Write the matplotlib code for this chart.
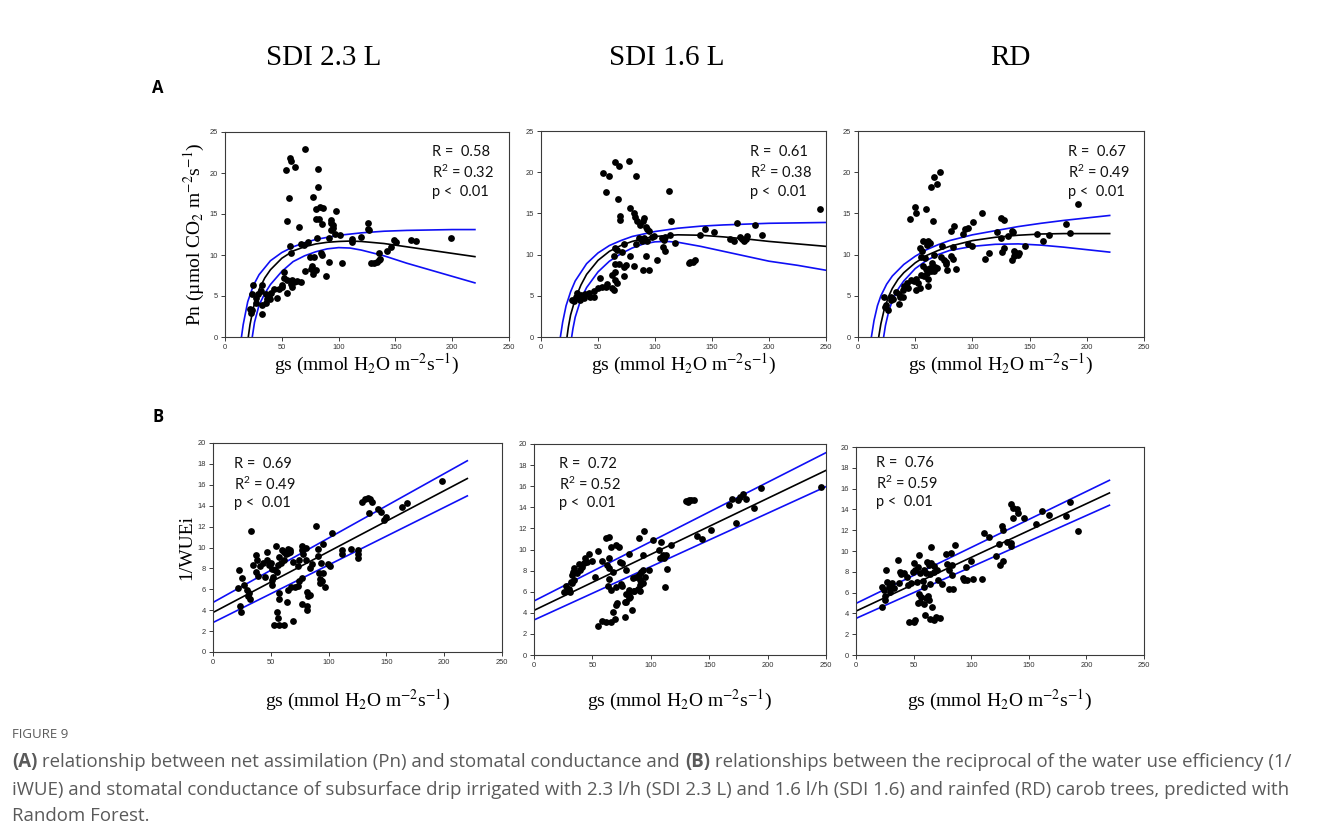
import matplotlib
matplotlib.use("Agg")
import matplotlib.pyplot as plt

plt.rcParams["mathtext.fontset"] = "custom"
plt.rcParams["mathtext.rm"] = "Lato"
plt.rcParams["mathtext.it"] = "Lato:italic"

# ---------------- data ----------------
treatments = ["SDI 2.3 L", "SDI 1.6 L", "RD"]

# Pn vs gs, (gs, Pn) pairs
pn_sdi23 = [(70.1, 22.9), (53.4, 20.4), (57.5, 21.8), (57.8, 21.5), (61.6, 20.7), (81.5, 20.5), (81.5, 18.3),
            (56.1, 17.0), (77.1, 17.1), (54.9, 14.1), (65.1, 13.4), (79.7, 15.6), (83.8, 15.8), (85.9, 15.7),
            (80.3, 14.4), (82.6, 14.4), (85.0, 13.8), (97.5, 15.4), (93.2, 14.3), (93.5, 13.9), (95.0, 13.3),
            (93.2, 13.1), (95.5, 13.6), (125.9, 13.9), (125.6, 13.2), (126.5, 13.0), (96.7, 12.6), (101.6, 12.4),
            (91.4, 12.1), (119.7, 12.2), (111.9, 11.95), (112.1, 11.6), (148.4, 11.8), (150.4, 11.6),
            (163.3, 11.8), (168.0, 11.75), (198.6, 12.1), (67.2, 11.4), (69.5, 11.2), (73.0, 11.6), (57.5, 11.1),
            (80.6, 12.1), (84.1, 10.3), (85.6, 10.0), (74.5, 9.8), (78.0, 9.7), (91.4, 9.1), (103.1, 9.0),
            (76.8, 8.6), (75.3, 8.3), (77.3, 7.7), (79.9, 8.2), (89.1, 7.4), (70.5, 8.0), (58.0, 10.2),
            (128.8, 9.0), (131.4, 9.0), (133.8, 9.1), (135.5, 9.4), (136.7, 9.5), (135.2, 10.2), (142.5, 10.5),
            (146.0, 11.0), (51.7, 7.9), (52.0, 7.2), (54.9, 7.0), (59.3, 7.0), (60.7, 6.7), (63.7, 6.8),
            (66.6, 6.7), (57.8, 6.5), (59.3, 6.1), (54.9, 5.4), (50.0, 6.3), (47.9, 5.85), (50.5, 6.05),
            (46.1, 4.8), (43.2, 5.9), (40.3, 5.4), (38.8, 4.9), (39.4, 4.6), (35.9, 5.2), (36.2, 4.2),
            (33.0, 3.9), (33.0, 2.8), (33.0, 6.3), (31.5, 5.6), (29.2, 5.3), (27.2, 4.8), (24.8, 6.3),
            (23.4, 5.3), (21.9, 3.4), (22.8, 2.9), (24.2, 3.3), (27.2, 4.2), (37.4, 4.6)]

pn_sdi16 = [(65.2, 21.2), (76.9, 21.4), (68.7, 20.7), (54.1, 19.9), (59.9, 19.5), (83.3, 19.5), (56.7, 17.6),
            (112.6, 17.7), (67.5, 16.7), (245.0, 15.5), (78.4, 15.7), (81.3, 15.0), (82.2, 14.6), (90.4, 14.5),
            (89.5, 14.1), (69.0, 14.2), (69.3, 14.7), (84.2, 14.1), (114.0, 14.1), (87.1, 13.6), (91.8, 13.4),
            (93.0, 13.1), (95.0, 12.9), (143.9, 13.1), (151.5, 12.8), (172.0, 13.8), (187.4, 13.6),
            (193.9, 12.4), (139.2, 12.4), (113.5, 12.4), (97.4, 12.1), (99.4, 12.2), (85.7, 12.05), (88.6, 11.7),
            (90.0, 12.0), (93.0, 11.7), (106.0, 12.0), (109.0, 12.1), (107.6, 11.8), (117.8, 11.4),
            (166.1, 11.9), (169.0, 11.65), (174.3, 12.1), (176.0, 11.9), (179.5, 11.9), (180.7, 12.2),
            (177.8, 11.7), (83.0, 11.3), (72.5, 11.25), (65.2, 10.8), (66.7, 10.6), (107.0, 10.9), (109.0, 10.4),
            (71.0, 10.3), (78.4, 9.8), (92.4, 9.8), (101.8, 9.4), (63.6, 9.8), (64.9, 8.9), (68.1, 8.8),
            (74.3, 8.7), (73.1, 8.5), (81.3, 8.6), (89.5, 8.1), (94.4, 8.1), (129.5, 9.0), (131.0, 9.1),
            (133.0, 9.1), (135.4, 9.3), (65.2, 7.9), (62.3, 7.5), (65.2, 6.9), (66.7, 6.6), (73.1, 7.4),
            (62.6, 5.9), (64.3, 5.7), (57.9, 6.4), (57.3, 6.1), (52.0, 7.1), (53.5, 6.1), (50.0, 5.9),
            (46.8, 5.6), (41.8, 5.3), (38.9, 5.2), (46.2, 4.9), (43.3, 4.9), (35.4, 5.1), (31.6, 5.3),
            (27.2, 4.45), (29.2, 4.4), (32.2, 5.0), (34.5, 4.45), (30.4, 4.9), (33.3, 4.7), (37.4, 4.7)]

pn_rd = [(71.4, 20.0), (66.4, 19.4), (68.8, 18.6), (63.8, 18.2), (49.8, 15.8), (50.7, 15.1), (59.4, 15.5),
         (45.2, 14.3), (65.3, 14.1), (192.3, 16.2), (108.7, 15.0), (100.8, 13.9), (124.7, 14.5), (127.6, 14.2),
         (182.0, 13.7), (83.9, 13.5), (81.0, 12.9), (93.5, 13.1), (95.9, 13.2), (92.1, 12.5), (121.8, 12.8),
         (134.3, 12.9), (135.2, 12.7), (131.1, 12.3), (156.2, 12.5), (166.7, 12.4), (185.6, 12.6),
         (124.7, 12.0), (161.4, 11.7), (56.5, 11.65), (60.9, 11.7), (62.7, 11.45), (60.3, 11.2), (73.4, 11.0),
         (83.3, 10.9), (53.9, 10.85), (95.9, 11.3), (99.3, 11.05), (127.3, 10.8), (126.2, 10.3), (114.5, 10.2),
         (111.3, 9.5), (136.1, 10.4), (138.4, 10.2), (140.7, 10.25), (139.6, 9.9), (136.7, 9.8), (134.3, 9.35),
         (146.0, 11.1), (55.6, 10.4), (54.8, 9.75), (58.3, 9.55), (66.1, 9.95), (72.3, 9.75), (75.2, 9.4),
         (77.2, 9.15), (76.6, 8.9), (81.0, 9.85), (83.0, 9.45), (78.1, 8.1), (85.7, 8.2), (65.0, 8.95),
         (67.3, 8.55), (69.0, 8.35), (62.6, 8.35), (63.5, 7.95), (66.4, 7.95), (56.8, 8.65), (59.1, 8.2),
         (55.0, 7.55), (57.4, 7.35), (60.3, 7.75), (60.9, 7.05), (61.5, 6.25), (51.0, 7.0), (52.4, 6.5),
         (53.9, 5.9), (50.4, 5.65), (48.7, 6.75), (46.6, 6.95), (43.1, 6.55), (43.7, 5.9), (39.3, 5.7),
         (40.2, 6.2), (35.8, 5.2), (33.5, 5.5), (37.0, 4.9), (39.3, 4.85), (29.1, 4.9), (30.6, 4.65),
         (22.7, 4.9), (23.3, 3.7), (24.8, 3.9), (26.2, 3.3), (35.5, 4.0), (28.6, 4.5)]

# fitted Pn curves: (gs, value) read along the fitted line and its two bands
fit_sdi23_mid = [(20.5, 0.0), (22, 1.5), (25, 3.6), (30, 5.8), (35, 7.2), (40, 8.2), (50, 9.6), (60, 10.5),
                 (70, 11.0), (80, 11.35), (90, 11.55), (100, 11.65), (110, 11.7), (120, 11.65), (140, 11.4),
                 (160, 11.0), (180, 10.6), (200, 10.2), (220, 9.8)]
fit_sdi23_up = [(14.5, 0.0), (16, 1.5), (20, 4.3), (25, 6.3), (30, 7.6), (40, 9.3), (50, 10.3), (60, 11.0),
                (70, 11.5), (80, 11.9), (100, 12.4), (120, 12.7), (140, 12.9), (160, 13.0), (180, 13.05),
                (200, 13.1), (220, 13.1)]
fit_sdi23_lo = [(24, 0.0), (26, 1.8), (30, 3.9), (35, 5.3), (40, 6.4), (50, 8.0), (60, 9.2), (70, 9.9),
                (80, 10.4), (90, 10.75), (100, 10.9), (110, 10.85), (120, 10.6), (140, 9.9), (160, 9.0),
                (180, 8.2), (200, 7.4), (220, 6.6)]

fit_sdi16_mid = [(22.8, 0.0), (24, 1.2), (26, 2.7), (30, 4.6), (35, 6.3), (40, 7.6), (50, 9.3), (60, 10.4),
                 (70, 11.1), (80, 11.6), (90, 11.95), (100, 12.2), (120, 12.4), (140, 12.35), (160, 12.15),
                 (180, 11.9), (200, 11.6), (225, 11.3), (250, 11.0)]
fit_sdi16_up = [(17, 0.0), (19, 1.8), (22, 3.8), (26, 5.5), (30, 6.8), (40, 8.9), (50, 10.2), (60, 11.1),
                (70, 11.7), (80, 12.2), (100, 12.8), (120, 13.2), (140, 13.45), (160, 13.6), (180, 13.7),
                (200, 13.8), (225, 13.85), (250, 13.9)]
fit_sdi16_lo = [(26.9, 0.0), (28, 1.0), (30, 2.4), (35, 4.6), (40, 6.0), (50, 7.9), (60, 9.2), (70, 10.1),
                (80, 10.8), (90, 11.3), (100, 11.55), (110, 11.6), (120, 11.5), (140, 11.0), (160, 10.4),
                (180, 9.8), (200, 9.2), (225, 8.7), (250, 8.1)]

fit_rd_mid = [(18.1, 0.0), (20, 1.6), (23, 3.4), (27, 5.0), (30, 5.9), (35, 7.0), (40, 7.8), (50, 9.0),
              (60, 9.9), (70, 10.5), (80, 11.0), (100, 11.7), (120, 12.1), (140, 12.35), (160, 12.5),
              (180, 12.55), (200, 12.55), (220, 12.55)]
fit_rd_up = [(11.7, 0.0), (14, 2.0), (17, 3.8), (20, 5.0), (25, 6.4), (30, 7.4), (40, 8.8), (50, 9.8),
             (60, 10.6), (70, 11.2), (80, 11.7), (100, 12.4), (120, 12.9), (140, 13.4), (160, 13.8),
             (180, 14.15), (200, 14.45), (220, 14.75)]
fit_rd_lo = [(22.4, 0.0), (24, 1.4), (27, 3.2), (30, 4.4), (35, 5.8), (40, 6.8), (50, 8.3), (60, 9.3),
             (70, 10.0), (80, 10.5), (100, 11.0), (120, 11.25), (140, 11.3), (160, 11.15), (180, 10.9),
             (200, 10.6), (220, 10.3)]

# 1/WUEi vs gs, (gs, 1/WUEi) pairs
wue_sdi23 = [(198.2, 16.4), (167.4, 14.3), (163.1, 13.9), (128.9, 14.4), (131.5, 14.6), (133.8, 14.7),
             (135.8, 14.6), (137.2, 14.4), (134.9, 13.3), (142.4, 13.7), (145.3, 13.4), (149.3, 12.9),
             (148.1, 12.6), (125.7, 9.8), (125.7, 9.4), (125.1, 9.0), (119.7, 9.9), (111.3, 9.75), (111.3, 9.4),
             (102.7, 11.4), (88.9, 12.1), (32.8, 11.55), (95.5, 10.3), (90.6, 9.85), (99.8, 8.4), (101.3, 8.2),
             (90.6, 9.2), (93.6, 8.55), (91.3, 7.6), (95.5, 7.6), (92.6, 7.0), (94.3, 6.8), (92.3, 6.6),
             (97.0, 6.25), (85.4, 8.4), (84.0, 8.0), (77.4, 10.1), (80.6, 10.0), (76.8, 9.75), (78.0, 9.4),
             (74.8, 8.8), (73.3, 8.2), (80.6, 8.8), (69.6, 8.65), (66.7, 9.8), (65.3, 9.5), (61.6, 8.8),
             (59.0, 8.5), (54.7, 10.1), (59.6, 9.8), (61.0, 9.6), (57.5, 9.1), (63.0, 9.4), (65.3, 9.9),
             (66.2, 9.6), (46.6, 9.6), (48.6, 8.3), (50.1, 8.5), (50.9, 7.9), (56.1, 8.3), (55.2, 7.7),
             (51.2, 6.4), (57.0, 5.6), (56.7, 5.1), (64.7, 5.9), (67.6, 6.2), (71.3, 6.2), (73.9, 6.3),
             (74.5, 6.8), (76.8, 7.1), (81.1, 5.7), (82.0, 5.4), (84.0, 5.5), (76.8, 4.6), (81.1, 4.4),
             (81.1, 4.0), (63.9, 4.8), (69.6, 3.0), (61.0, 2.6), (53.2, 2.6), (57.5, 2.6), (55.2, 3.8),
             (55.8, 3.25), (38.0, 8.85), (42.9, 8.5), (40.9, 8.2), (36.8, 9.3), (34.5, 8.3), (37.4, 7.7),
             (38.8, 7.3), (44.6, 7.2), (46.6, 8.8), (22.2, 7.8), (25.0, 7.1), (27.0, 6.4), (29.3, 5.9),
             (30.8, 5.6), (32.2, 5.1), (30.2, 5.35), (21.6, 6.15), (23.6, 4.4), (24.5, 3.85), (50.9, 6.9),
             (51.8, 7.2), (53.8, 7.8)]

wue_sdi16 = [(245.7, 15.9), (194.7, 15.8), (179.0, 15.3), (176.7, 15.0), (174.7, 14.7), (181.3, 14.8),
             (169.8, 14.75), (167.0, 14.2), (188.1, 13.9), (172.7, 12.5), (151.2, 11.85), (144.0, 11.0),
             (139.5, 11.3), (130.3, 14.6), (132.6, 14.7), (134.6, 14.7), (136.6, 14.7), (131.7, 14.5),
             (117.7, 10.4), (109.1, 10.7), (107.4, 9.95), (110.3, 9.5), (108.2, 9.15), (111.7, 9.15),
             (113.1, 9.5), (114.0, 8.15), (112.5, 6.4), (101.9, 10.9), (93.9, 11.8), (89.6, 11.1), (93.1, 9.5),
             (98.2, 8.05), (93.1, 8.05), (95.1, 7.4), (91.6, 7.9), (90.2, 7.6), (87.3, 7.35), (84.5, 7.3),
             (90.8, 7.1), (90.8, 6.6), (88.8, 6.25), (86.0, 6.1), (93.1, 6.8), (81.6, 9.6), (78.8, 8.05),
             (75.0, 8.75), (73.9, 8.85), (72.5, 10.2), (70.2, 10.4), (66.2, 10.2), (64.4, 9.15), (62.1, 8.55),
             (64.4, 8.2), (61.6, 11.05), (64.4, 11.2), (67.3, 7.9), (64.4, 7.25), (63.0, 6.5), (65.9, 6.2),
             (70.2, 6.4), (74.5, 6.7), (75.3, 6.55), (81.6, 6.15), (78.8, 5.8), (81.0, 5.4), (81.0, 5.65),
             (78.2, 5.05), (54.4, 9.85), (58.3, 8.95), (52.4, 7.4), (46.7, 9.6), (49.5, 8.95), (45.2, 8.85),
             (42.7, 8.7), (44.0, 9.15), (38.7, 8.6), (41.0, 8.35), (39.5, 8.05), (34.4, 8.2), (36.4, 7.8),
             (33.5, 7.9), (32.4, 7.6), (32.9, 6.8), (31.5, 6.95), (34.4, 7.1), (30.1, 6.3), (30.9, 6.0),
             (27.2, 6.5), (28.1, 6.1), (25.8, 6.0), (55.1, 2.75), (57.9, 3.25), (61.6, 3.1), (65.6, 3.1),
             (69.3, 3.4), (67.9, 4.05), (69.9, 4.75), (70.8, 4.9), (77.9, 3.6), (78.8, 5.0), (84.2, 4.3),
             (82.2, 5.5), (86.0, 6.05), (90.8, 6.05)]

wue_rd = [(185.6, 14.7), (192.6, 11.9), (182.7, 13.35), (167.4, 13.5), (161.4, 13.8), (156.2, 12.6),
          (146.0, 13.2), (134.5, 14.5), (136.5, 14.1), (139.4, 14.0), (140.3, 13.7), (136.5, 13.2),
          (126.7, 12.4), (127.9, 12.0), (111.4, 11.75), (115.2, 11.35), (124.4, 10.7), (130.8, 10.9),
          (134.5, 10.8), (134.5, 10.5), (121.8, 9.55), (125.0, 8.65), (127.9, 9.05), (99.6, 9.05), (95.7, 8.5),
          (86.3, 10.55), (82.3, 9.8), (78.0, 9.75), (64.7, 10.4), (54.6, 9.65), (36.1, 9.1), (26.3, 8.2),
          (83.7, 8.65), (78.8, 8.75), (80.3, 8.15), (83.1, 7.7), (80.9, 6.3), (84.6, 6.3), (74.5, 6.8),
          (71.0, 7.25), (92.7, 7.45), (93.8, 7.2), (96.1, 7.25), (101.3, 7.35), (109.1, 7.3), (70.1, 8.15),
          (67.3, 8.0), (68.1, 8.55), (65.0, 8.8), (61.5, 8.95), (63.2, 8.65), (58.6, 8.15), (60.6, 7.85),
          (64.2, 7.75), (55.7, 7.85), (53.7, 8.5), (50.5, 8.85), (51.4, 8.2), (49.4, 8.0), (52.8, 7.05),
          (58.0, 7.15), (64.2, 6.8), (58.6, 6.55), (47.9, 6.9), (45.0, 6.7), (42.1, 7.9), (39.3, 7.75),
          (44.2, 7.5), (38.4, 8.0), (36.9, 6.95), (31.2, 6.9), (28.3, 6.55), (32.6, 6.45), (29.2, 6.1),
          (24.4, 6.25), (22.5, 6.55), (26.8, 7.05), (24.8, 5.3), (25.4, 5.65), (22.5, 4.6), (55.1, 5.9),
          (56.3, 5.6), (55.7, 5.1), (58.6, 4.95), (53.4, 5.0), (61.0, 5.45), (63.3, 5.3), (62.1, 5.65),
          (65.8, 4.65), (60.0, 3.85), (64.4, 3.5), (67.3, 3.4), (69.6, 3.7), (72.5, 3.6), (45.9, 3.2),
          (50.5, 3.2), (51.4, 3.35)]

# linear fits: values at the two ends of each fitted line (gs, fitted, upper, lower)
wue_fit_sdi23 = [(0, 3.78, 4.74, 2.82), (220, 16.6, 18.3, 14.94)]
wue_fit_sdi16 = [(0, 4.23, 5.12, 3.32), (250, 17.5, 19.18, 15.96)]
wue_fit_rd = [(0, 4.22, 4.96, 3.52), (220, 15.58, 16.8, 14.4)]

stats_pn = [("0.58", "0.32"), ("0.61", "0.38"), ("0.67", "0.49")]
stats_wue = [("0.69", "0.49"), ("0.72", "0.52"), ("0.76", "0.59")]

# ---------------- figure ----------------
W, H = 1320, 836
fig = plt.figure(figsize=(W / 100, H / 100), dpi=100)


def frac_box(left, top, right, bottom):
    return [left / W, 1 - bottom / H, (right - left) / W, (bottom - top) / H]


px_a = [(225, 132, 509, 337), (541, 131, 826, 337), (858, 131, 1144, 337)]
px_b = [(213, 443, 502, 652), (534, 444, 826, 655), (856, 447, 1144, 655)]

pn_sets = [pn_sdi23, pn_sdi16, pn_rd]
pn_fits = [(fit_sdi23_mid, fit_sdi23_up, fit_sdi23_lo),
           (fit_sdi16_mid, fit_sdi16_up, fit_sdi16_lo),
           (fit_rd_mid, fit_rd_up, fit_rd_lo)]
wue_sets = [wue_sdi23, wue_sdi16, wue_rd]
wue_fits = [wue_fit_sdi23, wue_fit_sdi16, wue_fit_rd]

stat_pos_a = [(0.729, [0.902, 0.805, 0.707]), (0.733, [0.898, 0.801, 0.704]), (0.734, [0.898, 0.801, 0.704])]
stat_pos_b = [(0.073, [0.900, 0.804, 0.713]), (0.086, [0.905, 0.810, 0.720]), (0.069, [0.923, 0.827, 0.736])]

BLUE = "#0f0ff5"
SPINE = "#3a3a3a"
TICK_KW = dict(labelsize=5.4, labelcolor="#333333", length=3, width=0.7, color=SPINE, direction="out", pad=2)
XLABEL = r"gs (mmol H$_2$O m$^{\mathrm{-2}}$s$^{\mathrm{-1}}$)"
SERIF = "Liberation Serif"


def style_axes(ax):
    for sp in ax.spines.values():
        sp.set_color(SPINE)
        sp.set_linewidth(0.8)
    ax.tick_params(**TICK_KW)
    for lab in ax.get_xticklabels() + ax.get_yticklabels():
        lab.set_family("Liberation Sans")


def draw_stats(ax, x, ys, r, r2):
    kw = dict(transform=ax.transAxes, fontsize=10.5, family="Lato", va="center", ha="left", color="#111111",
              math_fontfamily="custom")
    ax.text(x, ys[0], f"R =  {r}", **kw)
    ax.text(x, ys[1], r"R$^{\mathrm{2}}$" + f" = {r2}", **kw)
    ax.text(x, ys[2], "p <  0.01", **kw)


def xlabel_at(box_px, y_px):
    cx = (box_px[0] + box_px[2]) / 2
    fig.text(cx / W, 1 - y_px / H, XLABEL, family=SERIF, fontsize=14, math_fontfamily="stix",
             ha="center", va="center")


for i in range(3):
    ax = fig.add_axes(frac_box(*px_a[i]))
    gs, pn = zip(*pn_sets[i])
    ax.scatter(gs, pn, s=24, color="black", zorder=3, linewidths=0)
    mid, up, lo = pn_fits[i]
    for curve, col in ((up, BLUE), (lo, BLUE), (mid, "black")):
        cx, cy = zip(*curve)
        ax.plot(cx, cy, color=col, lw=1.2, zorder=2)
    ax.set_xlim(0, 250)
    ax.set_ylim(0, 25)
    ax.set_xticks(range(0, 251, 50))
    ax.set_yticks(range(0, 26, 5))
    style_axes(ax)
    xlabel_at(px_a[i], 364)
    if i == 0:
        ax.set_ylabel("Pn (µmol CO$_2$ m$^{\\mathrm{-2}}$s$^{\\mathrm{-1}}$)", family=SERIF, fontsize=14,
                      math_fontfamily="stix", labelpad=2)
    x0, ys = stat_pos_a[i]
    draw_stats(ax, x0, ys, *stats_pn[i])

for i in range(3):
    ax = fig.add_axes(frac_box(*px_b[i]))
    gs, wv = zip(*wue_sets[i])
    ax.scatter(gs, wv, s=24, color="black", zorder=3, linewidths=0)
    ends = wue_fits[i]
    ex = [e[0] for e in ends]
    ax.plot(ex, [e[2] for e in ends], color=BLUE, lw=1.2, zorder=2)
    ax.plot(ex, [e[3] for e in ends], color=BLUE, lw=1.2, zorder=2)
    ax.plot(ex, [e[1] for e in ends], color="black", lw=1.2, zorder=2)
    ax.set_xlim(0, 250)
    ax.set_ylim(0, 20)
    ax.set_xticks(range(0, 251, 50))
    ax.set_yticks(range(0, 21, 2))
    style_axes(ax)
    xlabel_at(px_b[i], 700)
    if i == 0:
        ax.set_ylabel("1/WUEi", family=SERIF, fontsize=14, labelpad=2)
    x0, ys = stat_pos_b[i]
    draw_stats(ax, x0, ys, *stats_wue[i])

# column headers and panel letters
header_x = [324, 667, 1010]
for name, hx in zip(treatments, header_x):
    fig.text(hx / W, 1 - 58 / H, name, family=SERIF, fontsize=21, ha="center", va="center")
fig.text(152 / W, 1 - 88 / H, "A", family="Open Sans", fontweight="bold", fontsize=12, va="center")
fig.text(152 / W, 1 - 417 / H, "B", family="Open Sans", fontweight="bold", fontsize=12, va="center")

# caption
CAP = "#5a5a5a"
fig.text(12 / W, 1 - 735 / H, "FIGURE 9", family="Open Sans", fontsize=9.5, color=CAP, va="center")
renderer = fig.canvas.get_renderer()


def runs(x_px, y_px, parts):
    x = x_px
    for txt, bold in parts:
        t = fig.text(x / W, 1 - y_px / H, txt, family="Open Sans", fontsize=13.4, color=CAP, va="center",
                     fontweight="bold" if bold else "normal")
        bb = t.get_window_extent(renderer=renderer)
        x += bb.width


runs(12, 762, [("(A)", True), (" relationship between net assimilation (Pn) and stomatal conductance and ", False),
               ("(B)", True), (" relationships between the reciprocal of the water use efficiency (1/", False)])
runs(12, 790, [("iWUE) and stomatal conductance of subsurface drip irrigated with 2.3 l/h (SDI 2.3 L) and 1.6 l/h "
                "(SDI 1.6) and rainfed (RD) carob trees, predicted with", False)])
runs(12, 816, [("Random Forest.", False)])

fig.savefig("out.png", dpi=100)
